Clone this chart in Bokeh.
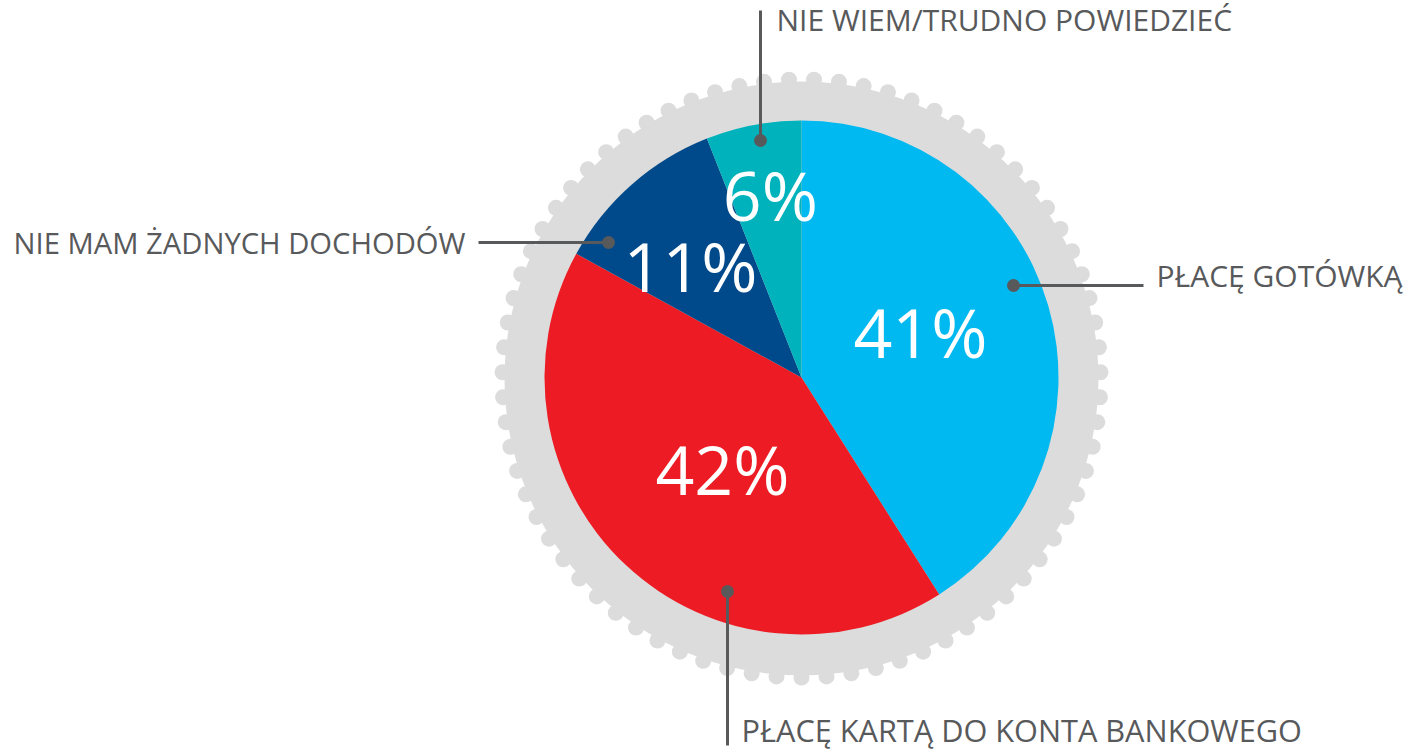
import numpy as np
from bokeh.plotting import figure
from bokeh.models import Range1d, ColumnDataSource
from bokeh.core.properties import value
from bokeh.embed import file_html
from bokeh.resources import INLINE

# ---- data ----
categories = ["PŁACĘ GOTÓWKĄ", "PŁACĘ KARTĄ DO KONTA BANKOWEGO",
              "NIE MAM ŻADNYCH DOCHODÓW", "NIE WIEM/TRUDNO POWIEDZIEĆ"]
shares = [41, 42, 11, 6]
colors = ["#00B9F1", "#ED1C24", "#00498A", "#00B2BB"]

# ---- style / layout ----
W, H = 1412, 750
CX, CY = 801, -377          # data y = -image y
R_PIE = 257
R_DISC = 297
N_BUMPS = 75
BUMP_R = 8
GREY = "#DCDCDC"
TXT = "#58595B"
FONT = "Open Sans"
label_radius = [126.5, 123, 155.6, 182.7]   # distance of % label from centre
label_dang = [3.7, 3.2, 4.1, -1.0]          # angular nudge (deg) from slice middle
CAP_DY = 3                                   # centre caps vertically

p = figure(width=W, height=H, output_backend="svg", toolbar_location=None,
           x_range=Range1d(0, W), y_range=Range1d(-H, 0),
           min_border=0, outline_line_color=None)
p.axis.visible = False
p.grid.visible = False
p.background_fill_color = "white"

# grey coin with scalloped edge
p.circle(x=[CX], y=[CY - 1], radius=R_DISC, fill_color=GREY, line_color=None)
step = 2 * np.pi / N_BUMPS
ang = np.pi / 2 + step / 2 + step * np.arange(N_BUMPS)
p.circle(x=CX + (R_DISC + 2) * np.cos(ang), y=CY - 1 + (R_DISC + 2) * np.sin(ang),
         radius=BUMP_R, fill_color=GREY, line_color=None)

# pie wedges (clockwise from 12 o'clock)
frac = np.array(shares) / sum(shares)
cum = np.concatenate([[0], np.cumsum(frac)])
start = np.pi / 2 - cum[1:] * 2 * np.pi
end = np.pi / 2 - cum[:-1] * 2 * np.pi
src = ColumnDataSource(dict(start=start, end=end, color=colors))
p.wedge(x=CX, y=CY, radius=R_PIE, start_angle="start", end_angle="end",
        fill_color="color", line_color=None, source=src)

# percentage labels
mid = (start + end) / 2 + np.radians(label_dang)
lx = CX + np.array(label_radius) * np.cos(mid)
ly = CY + np.array(label_radius) * np.sin(mid) + CAP_DY
p.text(x=lx, y=ly, text=[f"{s}%" for s in shares], text_color="white",
       text_font=value(FONT), text_font_size="68px",
       text_align="center", text_baseline="middle")

# leader lines: dot, line end, text anchor, alignment (image pixels)
leaders = [
    dict(dot=(1013, 285), end=(1143, 285), tx=1156, ty=275, align="left", fs="30px"),
    dict(dot=(727, 591), end=(727, 745), tx=741, ty=729, align="left", fs="30.7px"),
    dict(dot=(608, 242), end=(478, 242), tx=465, ty=242, align="right", fs="29.2px"),
    dict(dot=(760, 140), end=(760, 10), tx=776, ty=19, align="left", fs="30px"),
]
for cat, L in zip(categories, leaders):
    (x0, y0), (x1, y1) = L["dot"], L["end"]
    p.line([x0, x1], [-y0, -y1], line_color=TXT, line_width=3)
    p.scatter([x0], [-y0], size=13, fill_color=TXT, line_color=None)
    p.text(x=[L["tx"]], y=[-L["ty"]], text=[cat], text_color=TXT,
           text_font=value(FONT), text_font_size=L["fs"],
           text_align=L["align"], text_baseline="middle")

open("out.html", "w").write(file_html(p, INLINE))
